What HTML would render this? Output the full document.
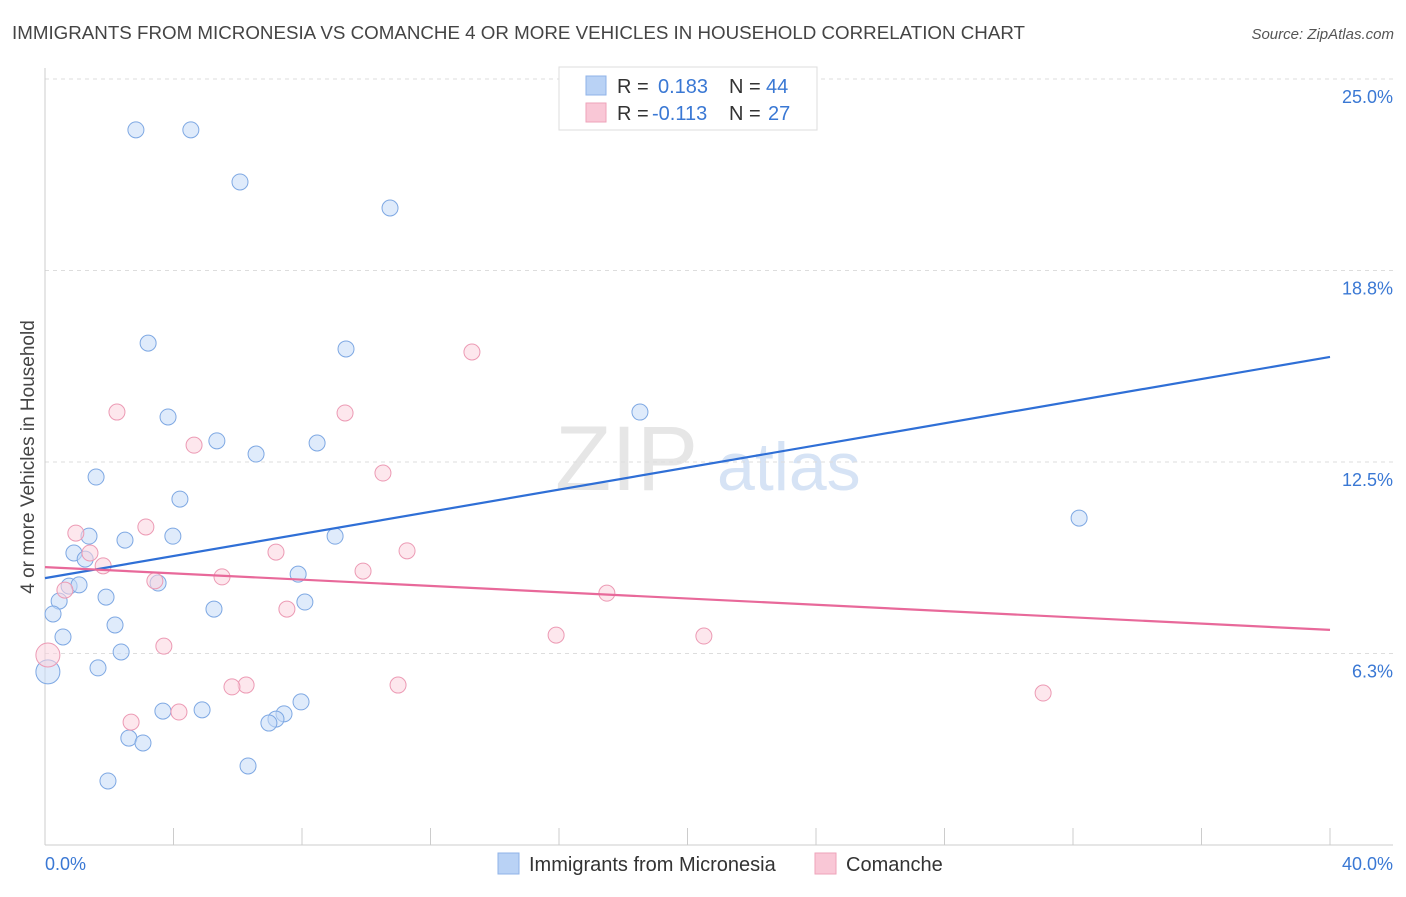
<!DOCTYPE html>
<html><head><meta charset="utf-8"><style>
body{margin:0;background:#fff;font-family:"Liberation Sans",sans-serif;}
svg text{font-family:"Liberation Sans",sans-serif;}
</style></head><body>
<svg id="chart" width="1406" height="892" xmlns="http://www.w3.org/2000/svg">
<text x="12" y="39" font-size="18" fill="#444" textLength="1013" lengthAdjust="spacingAndGlyphs">IMMIGRANTS FROM MICRONESIA VS COMANCHE 4 OR MORE VEHICLES IN HOUSEHOLD CORRELATION CHART</text>
<text x="1394" y="39" font-size="15" fill="#555" text-anchor="end" font-style="italic">Source: ZipAtlas.com</text>
<text x="555" y="490" font-size="92" fill="#e6e6e6" font-family="Liberation Serif">ZIP</text>
<text x="717" y="490" font-size="68" fill="#d6e3f5">atlas</text>
<g id="grid"></g><g id="axes"></g><g id="marks"></g>
<text transform="translate(34,457) rotate(-90)" font-size="19" fill="#444" text-anchor="middle">4 or more Vehicles in Household</text>
<g>
<rect x="559" y="67" width="258" height="63" fill="#fff" stroke="#ddd"/>
<rect x="586" y="76" width="20" height="19" fill="#b9d2f5" stroke="#8fb3e8"/>
<text x="617" y="93" font-size="20" fill="#333">R =</text>
<text x="658" y="93" font-size="20" fill="#3a78d4">0.183</text>
<text x="729" y="93" font-size="20" fill="#333">N =</text>
<text x="766" y="93" font-size="20" fill="#3a78d4">44</text>
<rect x="586" y="103" width="20" height="19" fill="#f9c7d6" stroke="#eea3ba"/>
<text x="617" y="120" font-size="20" fill="#333">R =</text>
<text x="652" y="120" font-size="20" fill="#3a78d4">-0.113</text>
<text x="729" y="120" font-size="20" fill="#333">N =</text>
<text x="768" y="120" font-size="20" fill="#3a78d4">27</text>
</g>
<g>
<rect x="498" y="853" width="21" height="21" fill="#b9d2f5" stroke="#8fb3e8"/>
<text x="529" y="871" font-size="20" fill="#333">Immigrants from Micronesia</text>
<rect x="815" y="853" width="21" height="21" fill="#f9c7d6" stroke="#eea3ba"/>
<text x="846" y="871" font-size="20" fill="#333">Comanche</text>
</g>
</svg>
<script>
const blueX=[2.83,4.54,6.07,10.74,3.21,9.37,3.83,18.52,5.35,8.47,6.57,1.59,4.20,32.19,1.37,2.49,3.98,9.03,0.90,1.25,0.75,1.06,3.52,7.88,0.44,1.90,5.26,8.09,0.25,2.18,0.56,2.37,1.65,0.09,3.67,4.89,7.97,7.44,7.19,6.97,2.61,3.05,6.32,1.96];
const blueY=[23.34,23.34,21.64,20.79,16.38,16.19,13.97,14.13,13.19,13.12,12.76,12.01,11.29,10.67,10.08,9.95,10.08,10.08,9.53,9.33,8.45,8.49,8.55,8.84,7.96,8.09,7.70,7.93,7.54,7.18,6.79,6.30,5.78,5.65,4.37,4.41,4.67,4.28,4.11,3.98,3.49,3.33,2.58,2.09];
const pinkX=[2.24,13.29,9.34,4.64,10.52,0.96,3.14,1.40,1.81,7.19,11.27,9.90,5.51,3.42,0.62,17.49,7.53,15.91,20.51,3.70,0.09,6.26,5.82,10.99,31.07,4.17,2.68];
const pinkY=[14.13,16.09,14.10,13.05,12.14,10.18,10.38,9.53,9.11,9.56,9.60,8.94,8.75,8.62,8.32,8.22,7.70,6.85,6.82,6.49,6.20,5.22,5.16,5.22,4.96,4.34,4.01];
const blueTrend=[8.71,15.93];
const pinkTrend=[9.07,7.02];
const yTicks=[25,18.75,12.5,6.25];
const yTickLabels=["25.0%","18.8%","12.5%","6.3%"];
const xTicks=[0,4,8,12,16,20,24,28,32,36,40];
const NS="http://www.w3.org/2000/svg";
const xs=v=>45+v*32.125, ys=v=>845-v*30.64;
function mk(tag,attrs,parent){const e=document.createElementNS(NS,tag);for(const k in attrs)e.setAttribute(k,attrs[k]);document.getElementById(parent).appendChild(e);return e;}
yTicks.forEach((t,i)=>{
 const l=mk('line',{x1:45,x2:1393,y1:ys(t),y2:ys(t),stroke:'#ddd','stroke-dasharray':'4,4'},'grid');
 
 
 const tx=mk('text',{x:1393,y:ys(t)+24,'font-size':18,fill:'#3a78d4','text-anchor':'end'},'axes');
 tx.textContent=yTickLabels[i];
 
 
});
const ax=mk('line',{x1:45,x2:45,y1:68,y2:845,stroke:'#ccc'},'axes');


const bx=mk('line',{x1:45,x2:1393,y1:845,y2:845,stroke:'#ccc'},'axes');


xTicks.forEach(t=>{
 const l=mk('line',{x1:xs(t),x2:xs(t),y1:828,y2:845,stroke:'#ccc'},'axes');
 
 
});
const x0=mk('text',{x:45,y:870,'font-size':18,fill:'#3a78d4'},'axes');x0.textContent='0.0%';


const x1=mk('text',{x:1393,y:870,'font-size':18,fill:'#3a78d4','text-anchor':'end'},'axes');x1.textContent='40.0%';


function dots(X,Y,fill,stroke,name){X.forEach((x,i)=>{
 const big=x<0.2;
 const c=mk('circle',{cx:xs(x),cy:ys(Y[i]),r:big?12:8,fill:fill,'fill-opacity':0.55,stroke:stroke,'stroke-width':1},'marks');
 
 
});}
dots(blueX,blueY,'#c5daf7','#7ea8e3','point-micronesia');
dots(pinkX,pinkY,'#fbd3df','#ec9ab4','point-comanche');
const bl=mk('line',{x1:xs(0),y1:ys(blueTrend[0]),x2:xs(40),y2:ys(blueTrend[1]),stroke:'#2f6fd6','stroke-width':2.2},'marks');


const pl=mk('line',{x1:xs(0),y1:ys(pinkTrend[0]),x2:xs(40),y2:ys(pinkTrend[1]),stroke:'#e8699a','stroke-width':2.2},'marks');


</script>
</body></html>
